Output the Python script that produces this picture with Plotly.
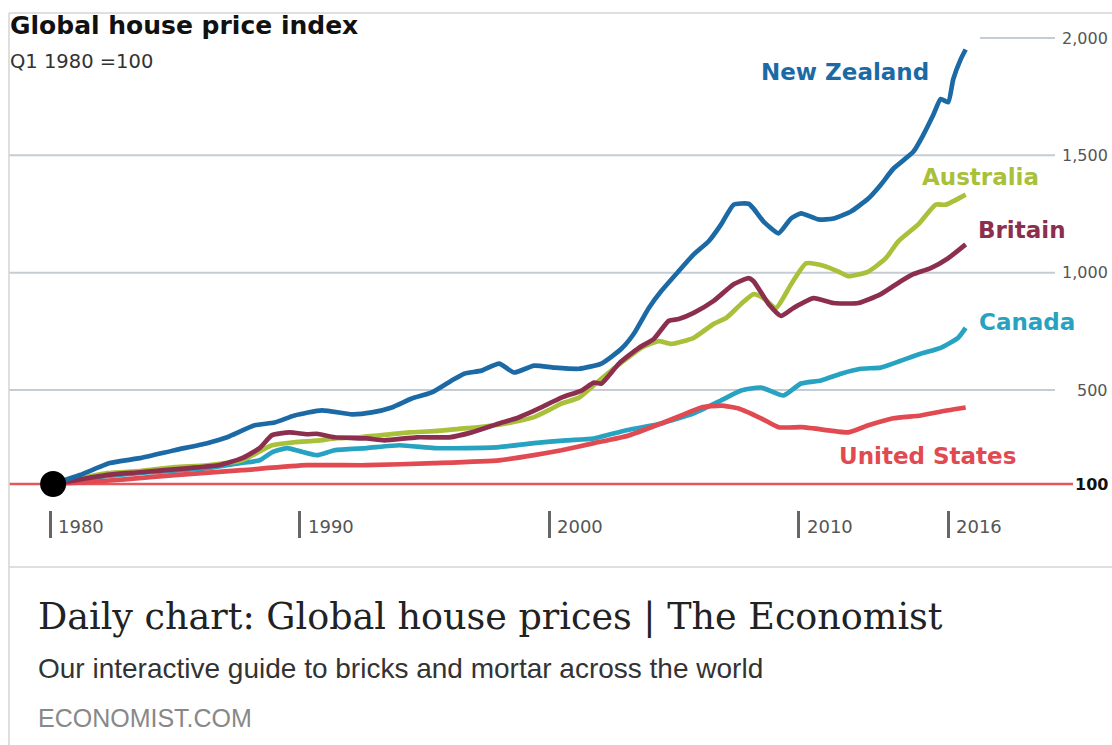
import plotly.graph_objects as go

# ---------------- data ----------------
nz_years = [1980.125, 1981.2, 1982.4, 1983.6, 1985.0, 1986.3, 1987.1, 1988.2, 1989.0, 1989.8,
            1990.9, 1992.1, 1992.9, 1993.7, 1994.5, 1995.3, 1996.1, 1996.6, 1997.3, 1998.0,
            1998.6, 1999.4, 2000.2, 2001.2, 2002.1, 2002.9, 2003.4, 2004.0, 2004.5, 2005.2,
            2005.8, 2006.4, 2006.9, 2007.4, 2008.0, 2008.2, 2008.6, 2009.2, 2009.7, 2010.1,
            2010.8, 2011.4, 2012.1, 2012.8, 2013.3, 2013.8, 2014.6, 2015.0, 2015.4, 2015.7,
            2016.0, 2016.2, 2016.5, 2016.7]
nz_index = [100, 138, 189, 210, 244, 274, 299, 350, 362, 392,
            414, 397, 405, 426, 464, 490, 541, 570, 583, 613,
            575, 604, 596, 591, 613, 676, 740, 850, 922, 1007,
            1078, 1134, 1206, 1290, 1294, 1273, 1218, 1168, 1231, 1253,
            1227, 1231, 1261, 1316, 1375, 1443, 1515, 1587, 1672, 1740,
            1727, 1824, 1909, 1951]

au_years = [1980.125, 1982.3, 1983.6, 1985.0, 1986.3, 1987.7, 1988.9, 1989.8, 1990.7, 1991.5,
            1992.5, 1993.5, 1994.4, 1995.4, 1996.4, 1997.4, 1998.4, 1999.4, 2000.0, 2000.5,
            2001.2, 2002.0, 2002.9, 2003.7, 2004.4, 2004.9, 2005.8, 2006.6, 2007.1, 2007.7,
            2008.2, 2008.6, 2009.1, 2009.7, 2010.3, 2011.0, 2011.6, 2012.0, 2012.8, 2013.5,
            2014.0, 2014.8, 2015.5, 2015.9, 2016.7]
au_index = [100, 146, 155, 172, 180, 201, 265, 278, 285, 295,
            300, 310, 320, 325, 335, 345, 360, 385, 415, 443,
            468, 540, 617, 680, 709, 697, 723, 782, 807, 867,
            909, 892, 850, 950, 1040, 1030, 1005, 985, 1005, 1062,
            1134, 1206, 1290, 1290, 1333]

uk_years = [1980.125, 1982.4, 1983.6, 1985.6, 1986.8, 1987.7, 1988.4, 1988.9, 1989.6, 1990.3,
            1990.7, 1991.4, 1992.7, 1993.4, 1994.7, 1996.0, 1996.9, 1998.0, 1998.7, 1999.6,
            2000.5, 2001.3, 2001.8, 2002.1, 2002.8, 2003.6, 2004.2, 2004.8, 2005.2, 2005.8,
            2006.6, 2007.4, 2008.0, 2008.2, 2008.8, 2009.3, 2009.8, 2010.6, 2011.4, 2012.4,
            2013.3, 2014.1, 2014.6, 2015.3, 2016.0, 2016.7]
uk_index = [100, 140, 150, 168, 181, 210, 253, 308, 320, 312,
            314, 299, 294, 286, 299, 299, 320, 358, 380, 422,
            468, 498, 532, 528, 613, 680, 718, 795, 803, 829,
            880, 951, 977, 964, 867, 816, 850, 892, 871, 871,
            909, 964, 994, 1020, 1062, 1121]

ca_years = [1980.125, 1982.0, 1984.0, 1986.3, 1987.6, 1988.4, 1988.9, 1989.5, 1990.0, 1990.7,
            1991.4, 1992.7, 1994.0, 1995.4, 1996.7, 1998.0, 1999.4, 2000.7, 2001.8, 2003.1,
            2004.5, 2005.8, 2006.9, 2007.7, 2008.5, 2009.4, 2010.1, 2010.9, 2011.7, 2012.5,
            2013.3, 2014.1, 2014.9, 2015.7, 2016.4, 2016.7]
ca_index = [100, 130, 150, 168, 189, 201, 235, 253, 240, 223,
            244, 253, 265, 253, 253, 257, 274, 286, 294, 329,
            358, 401, 456, 498, 511, 477, 528, 541, 570, 591,
            596, 625, 655, 680, 723, 765]

us_years = [1980.125, 1981.5, 1983.0, 1985.0, 1987.7, 1990.3, 1992.7, 1995.4, 1998.0, 1999.4,
            2000.5, 2001.8, 2003.2, 2004.5, 2005.3, 2006.1, 2006.9, 2007.6, 2008.5, 2009.2,
            2010.1, 2010.6, 2012.0, 2012.8, 2013.8, 2014.9, 2016.0, 2016.7]
us_index = [100, 108, 120, 138, 159, 180, 180, 189, 201, 223,
            244, 274, 307, 358, 392, 426, 434, 422, 380, 342,
            342, 337, 320, 350, 380, 392, 414, 426]

tick_years = [1980, 1990, 2000, 2010, 2016]
tick_labels = ["1980", "1990", "2000", "2010", "2016"]
grid_values = [500, 1000, 1500, 2000]
grid_labels = ["500", "1,000", "1,500", "2,000"]
base_value = 100

title = "Global house price index"
subtitle = "Q1 1980 =100"
card_title = "Daily chart: Global house prices | The Economist"
card_desc = "Our interactive guide to bricks and mortar across the world"
card_site = "ECONOMIST.COM"

# ---------------- layout geometry ----------------
W, H = 1112, 745
PL, PR, PT, PB = 9, 1055, 13, 510


def px(xp):
    return (xp - PL) / (PR - PL)


def py(yp):
    return (PB - yp) / (PB - PT)


series = [
    ("Canada", ca_years, ca_index, "#27a3c1", 2017.15, 790),
    ("United States", us_years, us_index, "#e14a50", 2011.55, 219),
    ("Australia", au_years, au_index, "#a9c03a", 2014.85, 1409),
    ("Britain", uk_years, uk_index, "#8c2f4e", 2017.1, 1180),
    ("New Zealand", nz_years, nz_index, "#1c6aa5", 2008.4, 1854),
]

fig = go.Figure()

for name, xs, ys, col, lx, ly in series:
    fig.add_trace(go.Scatter(x=xs, y=ys, mode="lines", name=name,
                             line=dict(color=col, width=4.7, shape="spline", smoothing=0.5),
                             hoverinfo="x+y+name"))

# starting dot
fig.add_trace(go.Scatter(x=[nz_years[0]], y=[nz_index[0]], mode="markers",
                         marker=dict(color="#000000", size=26), hoverinfo="skip"))

shapes = []
# gridlines
for v in grid_values:
    shapes.append(dict(type="line", xref="paper", yref="y",
                       x0=px(980) if v == 2000 else 0, x1=1, y0=v, y1=v,
                       line=dict(color="#c6ccd6", width=2), layer="below"))
# baseline at 100
shapes.append(dict(type="line", xref="paper", yref="y", x0=0, x1=px(1073),
                   y0=base_value, y1=base_value,
                   line=dict(color="#e2585c", width=2.5), layer="below"))
# card borders
shapes.append(dict(type="line", xref="paper", yref="paper", x0=0, x1=px(W), y0=py(13), y1=py(13),
                   line=dict(color="#d4d4d4", width=1.5)))
shapes.append(dict(type="line", xref="paper", yref="paper", x0=0, x1=0, y0=py(13), y1=py(H),
                   line=dict(color="#d4d4d4", width=1.5)))
shapes.append(dict(type="line", xref="paper", yref="paper", x0=0, x1=px(W), y0=py(567), y1=py(567),
                   line=dict(color="#d4d4d4", width=1.5)))

ann = []
# series labels
for name, xs, ys, col, lx, ly in series:
    ann.append(dict(x=lx, y=ly, xref="x", yref="y", text="<b>" + name + "</b>",
                    showarrow=False, xanchor="left", yanchor="middle",
                    font=dict(family="DejaVu Sans", size=23, color=col)))
# y labels (right aligned)
for v, t in zip(grid_values, grid_labels):
    ann.append(dict(x=px(1110), y=v, xref="paper", yref="y", text=t, showarrow=False,
                    xanchor="right", yanchor="middle",
                    font=dict(family="DejaVu Sans", size=16, color="#555555")))
ann.append(dict(x=px(1110), y=base_value, xref="paper", yref="y", text="<b>100</b>",
                showarrow=False, xanchor="right", yanchor="middle",
                font=dict(family="DejaVu Sans", size=16, color="#111111")))
# x labels
for v, t in zip(tick_years, tick_labels):
    ann.append(dict(x=v, y=py(526), xref="x", yref="paper", text=t, showarrow=False,
                    xanchor="left", yanchor="middle", xshift=6,
                    font=dict(family="DejaVu Sans", size=18, color="#555555")))
# titles
ann.append(dict(x=px(8), y=py(25), xref="paper", yref="paper", text="<b>" + title + "</b>",
                showarrow=False, xanchor="left", yanchor="middle",
                font=dict(family="DejaVu Sans", size=25, color="#111111")))
ann.append(dict(x=px(8), y=py(62), xref="paper", yref="paper", text=subtitle,
                showarrow=False, xanchor="left", yanchor="middle",
                font=dict(family="DejaVu Sans", size=19.5, color="#333333")))
# card text
ann.append(dict(x=px(36), y=py(616), xref="paper", yref="paper", text=card_title,
                showarrow=False, xanchor="left", yanchor="middle",
                font=dict(family="DejaVu Serif", size=36.5, color="#222222")))
ann.append(dict(x=px(36), y=py(668), xref="paper", yref="paper", text=card_desc,
                showarrow=False, xanchor="left", yanchor="middle",
                font=dict(family="Liberation Sans", size=28, color="#333333")))
ann.append(dict(x=px(36), y=py(718), xref="paper", yref="paper", text=card_site,
                showarrow=False, xanchor="left", yanchor="middle",
                font=dict(family="Liberation Sans", size=25, color="#888888")))

y_scale = (484 - 38) / 1900.0
y_zero = 484 + 100 * y_scale
yr_px = 24.95

fig.update_layout(
    width=W, height=H,
    margin=dict(l=PL, r=W - PR, t=PT, b=H - PB, pad=0),
    paper_bgcolor="white", plot_bgcolor="white",
    showlegend=False,
    shapes=shapes, annotations=ann,
    xaxis=dict(range=[1980 + (PL - 50) / yr_px, 1980 + (PR - 50) / yr_px],
               showgrid=False, zeroline=False, showline=False,
               tickvals=tick_years, showticklabels=False,
               ticks="outside", ticklen=27, tickwidth=2.5, tickcolor="#666666"),
    yaxis=dict(range=[(y_zero - PB) / y_scale, (y_zero - PT) / y_scale],
               showgrid=False, zeroline=False, showline=False,
               showticklabels=False, ticks=""),
)

fig.write_html("out.html", config={"displayModeBar": False},
               post_script="document.body.style.margin='0px';document.body.style.padding='0px';")
